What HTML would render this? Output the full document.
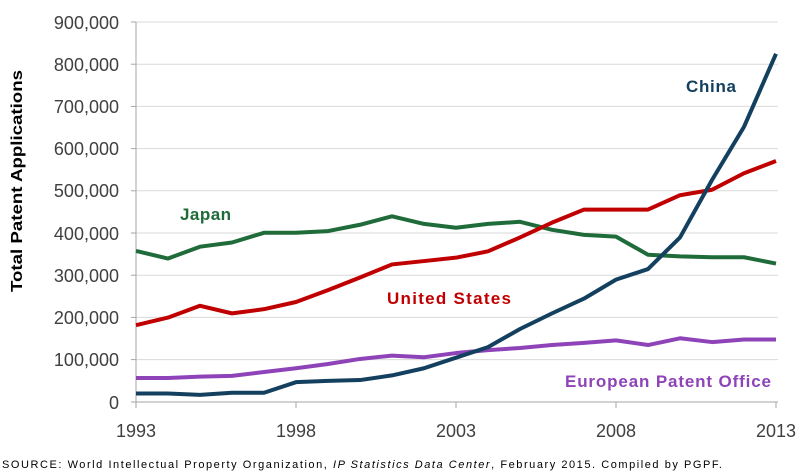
<!DOCTYPE html>
<html><head><style>
body{margin:0;background:#fff;}
svg{display:block;font-family:"Liberation Sans",sans-serif;}
</style></head><body>
<svg width="800" height="475" viewBox="0 0 800 475">
<g stroke="#d9d9d9" stroke-width="1">
<line x1="136" x2="778" y1="22" y2="22"/><line x1="136" x2="778" y1="64.2" y2="64.2"/>
<line x1="136" x2="778" y1="106.4" y2="106.4"/><line x1="136" x2="778" y1="148.6" y2="148.6"/>
<line x1="136" x2="778" y1="190.8" y2="190.8"/><line x1="136" x2="778" y1="233" y2="233"/>
<line x1="136" x2="778" y1="275.2" y2="275.2"/><line x1="136" x2="778" y1="317.4" y2="317.4"/>
<line x1="136" x2="778" y1="359.6" y2="359.6"/>
</g>
<g stroke="#a6a6a6" stroke-width="1">
<line x1="136" x2="136" y1="22" y2="402"/><line x1="136" x2="778" y1="402" y2="402"/>
<line x1="131" x2="136" y1="22" y2="22"/><line x1="131" x2="136" y1="64.2" y2="64.2"/>
<line x1="131" x2="136" y1="106.4" y2="106.4"/><line x1="131" x2="136" y1="148.6" y2="148.6"/>
<line x1="131" x2="136" y1="190.8" y2="190.8"/><line x1="131" x2="136" y1="233" y2="233"/>
<line x1="131" x2="136" y1="275.2" y2="275.2"/><line x1="131" x2="136" y1="317.4" y2="317.4"/>
<line x1="131" x2="136" y1="359.6" y2="359.6"/><line x1="131" x2="136" y1="402" y2="402"/>
<line x1="136" x2="136" y1="402" y2="408"/><line x1="296" x2="296" y1="402" y2="408"/>
<line x1="456" x2="456" y1="402" y2="408"/><line x1="616" x2="616" y1="402" y2="408"/>
<line x1="776" x2="776" y1="402" y2="408"/>
</g>
<g font-size="18" fill="#404040" text-anchor="end">
<text x="119" y="29">900,000</text><text x="119" y="71">800,000</text>
<text x="119" y="113">700,000</text><text x="119" y="155">600,000</text>
<text x="119" y="197">500,000</text><text x="119" y="240">400,000</text>
<text x="119" y="282">300,000</text><text x="119" y="324">200,000</text>
<text x="119" y="366">100,000</text><text x="119" y="409">0</text>
</g>
<g font-size="18" fill="#404040" text-anchor="middle">
<text x="136" y="437">1993</text><text x="296" y="437">1998</text>
<text x="456" y="437">2003</text><text x="616" y="437">2008</text><text x="776" y="437">2013</text>
</g>
<text transform="translate(22,292) rotate(-90)" font-size="16" font-weight="bold" fill="#000" textLength="222" lengthAdjust="spacingAndGlyphs">Total Patent Applications</text>
<g transform="translate(136,402) scale(32,-0.000422)" fill="none" stroke-width="4" stroke-linejoin="round">
<polyline vector-effect="non-scaling-stroke" stroke="#1f6b3a" points="0,358000 1,340000 2,368000 3,378000 4,401000 5,401000 6,405000 7,420000 8,440000 9,422000 10,413000 11,422000 12,427000 13,408000 14,396000 15,392000 16,349000 17,345000 18,343000 19,343000 20,328000"/>
<polyline vector-effect="non-scaling-stroke" stroke="#8e44b8" points="0,57000 1,57000 2,60000 3,62000 4,71000 5,80000 6,90000 7,102000 8,110000 9,106000 10,116000 11,123000 12,128000 13,135000 14,140000 15,146000 16,135000 17,151000 18,142000 19,148000 20,148000"/>
<polyline vector-effect="non-scaling-stroke" stroke="#c00000" points="0,182000 1,200000 2,228000 3,210000 4,220000 5,237000 6,265000 7,295000 8,326000 9,334000 10,342000 11,357000 12,390000 13,425000 14,456000 15,456000 16,456000 17,490000 18,503000 19,542000 20,571000"/>
<polyline vector-effect="non-scaling-stroke" stroke="#14405f" points="0,20000 1,20000 2,17000 3,22000 4,22000 5,47000 6,50000 7,52000 8,63000 9,80000 10,105000 11,130000 12,173000 13,210000 14,245000 15,290000 16,315000 17,390000 18,526000 19,652000 20,825000"/>
</g>
<g font-size="17" font-weight="bold" lengthAdjust="spacingAndGlyphs">
<text x="180" y="220" fill="#1f6b3a" textLength="51">Japan</text>
<text x="387" y="304" fill="#c00000" textLength="124">United States</text>
<text x="686" y="92" fill="#14405f" textLength="50">China</text>
<text x="565" y="387" fill="#8e44b8" textLength="206">European Patent Office</text>
</g>
<text x="2" y="468" font-size="11" fill="#000" textLength="720" lengthAdjust="spacing">SOURCE:  World Intellectual Property Organization, <tspan font-style="italic">IP Statistics Data Center</tspan>, February 2015. Compiled by PGPF.</text>
</svg>
</body></html>
